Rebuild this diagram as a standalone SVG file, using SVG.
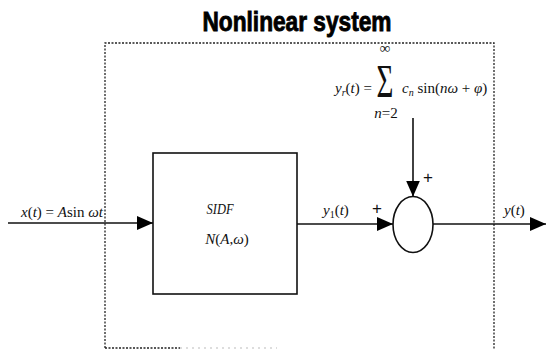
<svg xmlns="http://www.w3.org/2000/svg" width="546" height="349" viewBox="0 0 546 349">
<style>
.m{font-family:"Liberation Serif","Times New Roman",serif;font-size:15px;font-style:italic;fill:#111}
.u{font-style:normal}
.ln{stroke:#111;stroke-width:1.6;fill:none}
.dash{stroke:#222;stroke-width:1.3;fill:none;stroke-dasharray:2,1.5}
.plus{font-family:"Liberation Sans",Arial,sans-serif;font-size:17px;fill:#111}
</style>
<defs>
<marker id="ah" viewBox="0 0 16 14" refX="16" refY="7" markerWidth="16" markerHeight="14" markerUnits="userSpaceOnUse" orient="auto">
<path d="M0,0 L16,7 L0,14 Z" fill="#000"/>
</marker>
</defs>
<rect width="546" height="349" fill="#fff"/>
<g id="system-boundary">
<text x="297" y="31" text-anchor="middle" font-family="Liberation Sans,Arial,sans-serif" font-weight="bold" font-size="28" textLength="189" lengthAdjust="spacingAndGlyphs" fill="#000" stroke="#000" stroke-width="0.9">Nonlinear system</text>
<path class="dash" d="M105,348 V43 H494 V349"/>
<path class="dash" d="M105,348 H180" />
<path d="M180,348 H277" stroke="#bbb" stroke-width="1" stroke-dasharray="2,4"/>
</g>
<g id="sidf">
<rect class="ln" x="153" y="153" width="144" height="141"/>
<text class="m" x="220" y="214" text-anchor="middle" font-size="16" textLength="27" lengthAdjust="spacingAndGlyphs">SIDF</text>
<text class="m" x="227" y="244" text-anchor="middle" font-size="16">N<tspan class="u">(</tspan>A<tspan class="u">,</tspan>ω<tspan class="u">)</tspan></text>
</g>
<g id="summer">
<ellipse class="ln" cx="413" cy="224.5" rx="20" ry="28"/>
<text class="plus" x="428" y="183" text-anchor="middle">+</text>
<text class="plus" x="377" y="214" text-anchor="middle">+</text>
</g>
<g id="harmonics">
<text class="m" x="335" y="93">y<tspan font-size="10" dy="3">r</tspan><tspan dy="-3" class="u">(</tspan>t<tspan class="u">) =</tspan></text>
<text x="0" y="0" transform="translate(385,97) scale(1,1.6)" text-anchor="middle" font-family="Liberation Serif,serif" font-size="29" fill="#111">Σ</text>
<text class="m" x="385" y="53" text-anchor="middle" font-size="11" style="font-style:normal">∞</text>
<text class="m" x="386" y="118" text-anchor="middle" font-size="12">n<tspan class="u">=2</tspan></text>
<text class="m" x="402" y="93" font-size="14">c<tspan font-size="10" dy="3">n</tspan><tspan dy="-3" class="u"> sin(</tspan>n<tspan>ω</tspan><tspan class="u"> + </tspan>φ<tspan class="u">)</tspan></text>
</g>
<g id="connectors">
<line class="ln" x1="8" y1="223" x2="153" y2="223" marker-end="url(#ah)"/>
<line class="ln" x1="297" y1="224" x2="393" y2="224" marker-end="url(#ah)"/>
<line class="ln" x1="413" y1="118" x2="413" y2="196.5" marker-end="url(#ah)"/>
<line class="ln" x1="433" y1="224" x2="546" y2="224" marker-end="url(#ah)"/>
</g>
<g id="labels">
<text class="m" x="21" y="217" font-size="13">x<tspan class="u">(</tspan>t<tspan class="u">) = </tspan>A<tspan class="u">sin </tspan>ωt</text>
<text class="m" x="323" y="215">y<tspan font-size="10" dy="3" class="u">1</tspan><tspan dy="-3" class="u">(</tspan>t<tspan class="u">)</tspan></text>
<text class="m" x="504" y="215">y<tspan class="u">(</tspan>t<tspan class="u">)</tspan></text>
</g>
</svg>
